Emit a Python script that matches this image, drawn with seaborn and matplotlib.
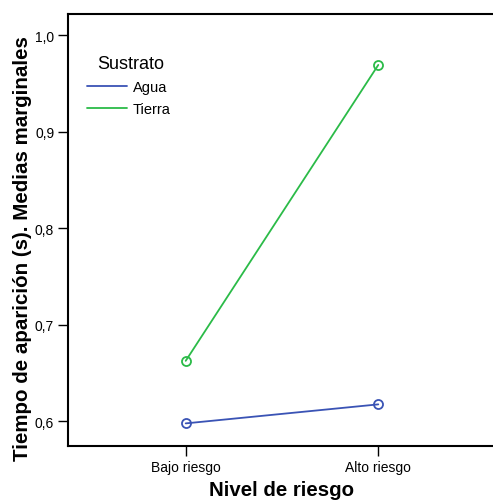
import pandas as pd
import matplotlib.pyplot as plt
import seaborn as sns
from matplotlib.ticker import FuncFormatter

# 数据
niveles = ['Bajo riesgo', 'Alto riesgo']
sustratos = ['Agua', 'Tierra']
agua = [0.5976, 0.6173]
tierra = [0.6624, 0.9690]
y_ticks = [0.6, 0.7, 0.8, 0.9, 1.0]

df = pd.DataFrame({
    'Nivel de riesgo': niveles * 2,
    'Sustrato': ['Agua'] * 2 + ['Tierra'] * 2,
    'Media': agua + tierra,
})

sns.set_style('white')
plt.rcParams['font.family'] = ['Liberation Sans', 'DejaVu Sans']
plt.rcParams['text.color'] = 'black'
plt.rcParams['axes.labelcolor'] = 'black'
plt.rcParams['xtick.color'] = 'black'
plt.rcParams['ytick.color'] = 'black'

fig = plt.figure(figsize=(4.93, 5.02), dpi=100)
ax = fig.add_axes([0.138, 0.110, 0.868, 0.860])

colores = {'Agua': '#3a53b5', 'Tierra': '#2bbb48'}
sns.lineplot(data=df, x='Nivel de riesgo', y='Media', hue='Sustrato',
             hue_order=sustratos, palette=colores, marker='o',
             markerfacecolor='none', markersize=6.5, markeredgewidth=1.3,
             linewidth=1.3, ax=ax, legend=False)
for ln in ax.lines:
    ln.set_markeredgecolor(ln.get_color())

ax.set_xlim(-0.611, 1.611)
ax.set_ylim(0.5744, 1.0217)
ax.set_yticks(y_ticks)
ax.yaxis.set_major_formatter(FuncFormatter(lambda v, p: f'{v:.1f}'.replace('.', ',')))
ax.tick_params(axis='both', direction='out', length=7, width=1, color='black',
               labelsize=10, left=True, bottom=True, pad=3)

for s in ['left', 'top', 'bottom']:
    ax.spines[s].set_color('black')
    ax.spines[s].set_linewidth(1.5)
ax.spines['right'].set_visible(False)

ax.set_xlabel('Nivel de riesgo', fontsize=14.7, fontweight='bold')
ax.set_ylabel('Tiempo de aparición (s). Medias marginales', fontsize=14.8,
              fontweight='bold')
ax.xaxis.set_label_coords(0.5, -0.08)
ax.yaxis.set_label_coords(-0.085, 0.458)

# 图例
handles = [plt.Line2D([], [], color=colores[s], linewidth=1.3) for s in sustratos]
leg = ax.legend(handles, sustratos, title='Sustrato', loc='upper left',
                bbox_to_anchor=(0.013, 0.935), frameon=False, fontsize=10.5,
                title_fontsize=13, handlelength=2.75, handletextpad=0.4,
                labelspacing=0.55)
leg._legend_box.align = 'left'
leg.get_title().set_position((10, 0))

fig.savefig('out.png', dpi=100)
